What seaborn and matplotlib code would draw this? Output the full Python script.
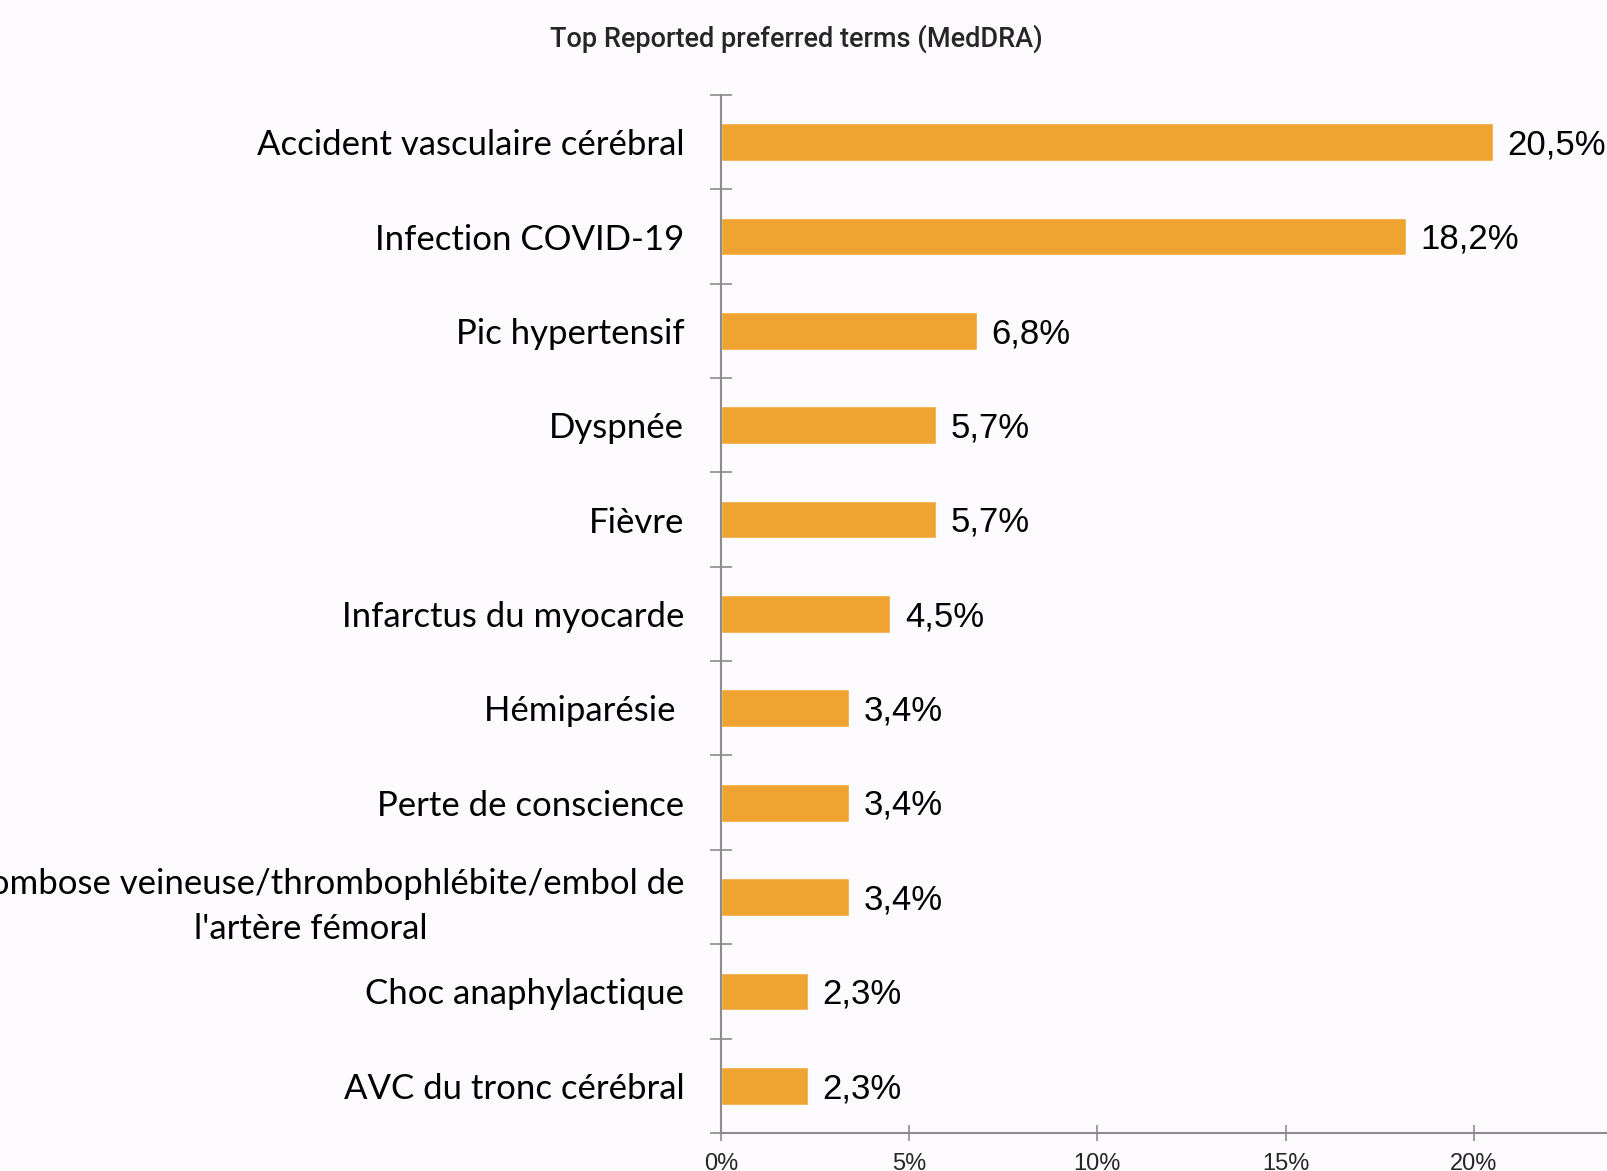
import matplotlib
matplotlib.use("Agg")
import matplotlib.pyplot as plt
import seaborn as sns
import pandas as pd
from matplotlib.ticker import FixedLocator, FuncFormatter

# Données
terms = [
    "Accident vasculaire cérébral",
    "Infection COVID-19",
    "Pic hypertensif",
    "Dyspnée",
    "Fièvre",
    "Infarctus du myocarde",
    "Hémiparésie ",
    "Perte de conscience",
    "Thrombose veineuse/thrombophlébite/embol de\nl'artère fémoral",
    "Choc anaphylactique",
    "AVC du tronc cérébral",
]
pct = [20.5, 18.2, 6.8, 5.7, 5.7, 4.5, 3.4, 3.4, 3.4, 2.3, 2.3]
x_ticks = [0, 5, 10, 15, 20, 25]
title = "Top Reported preferred terms (MedDRA)"

BG = "#FDFBFE"
BAR = "#EFA331"
AXIS = "#8C8C8C"

sns.set_theme(style="white")
plt.rcParams["font.family"] = ["Liberation Sans", "DejaVu Sans"]

df = pd.DataFrame({"term": terms, "pct": pct})

fig = plt.figure(figsize=(16.08, 11.71), dpi=100)
fig.patch.set_facecolor(BG)
ax = fig.add_axes([0.4484, 0.0325, 0.5852, 0.8864])
ax.set_facecolor(BG)

sns.barplot(data=df, x="pct", y="term", color=BAR, width=0.4,
            saturation=1, orient="h", ax=ax)

ax.set_xlim(0, 25)
ax.set_ylim(len(terms) - 0.5, -0.5)
ax.set_xlabel("")
ax.set_ylabel("")

# étiquettes de valeurs
labels = [f"{v:.1f}%".replace(".", ",") for v in pct]
txts = ax.bar_label(ax.containers[0], labels=labels, padding=10.5,
                    fontsize=25, color="black", family=["Liberation Sans", "DejaVu Sans"])
for t in txts:
    x0, y0 = t.xyann
    t.xyann = (x0, y0 - 2)

# axes
for s in ["top", "right"]:
    ax.spines[s].set_visible(False)
for s in ["left", "bottom"]:
    ax.spines[s].set_color(AXIS)
    ax.spines[s].set_linewidth(1.5)

ax.xaxis.set_major_locator(FixedLocator(x_ticks))
ax.xaxis.set_major_formatter(FuncFormatter(lambda v, p: f"{v:.0f}%"))
ax.tick_params(axis="x", which="major", direction="inout", length=11, width=1.2,
               color=AXIS, labelsize=17, pad=9, bottom=True)

ax.yaxis.set_minor_locator(FixedLocator([i - 0.5 for i in range(len(terms) + 1)]))
ax.tick_params(axis="y", which="minor", direction="inout", length=16.5, width=1.2,
               color=AXIS, left=True)
ax.tick_params(axis="y", which="major", length=0, pad=26.5)

for lab in ax.get_yticklabels():
    lab.set_fontfamily(["Lato", "DejaVu Sans"])
    lab.set_fontsize(25)
    lab.set_color("black")
    lab.set_multialignment("center")
    lab.set_linespacing(1.5)

fig.text(796 / 1608, 1 - 39 / 1171, title, ha="center", va="center",
         fontsize=19.5, family=["Roboto", "Liberation Sans"], fontweight="medium")

fig.savefig("out.png", dpi=100, facecolor=BG)
